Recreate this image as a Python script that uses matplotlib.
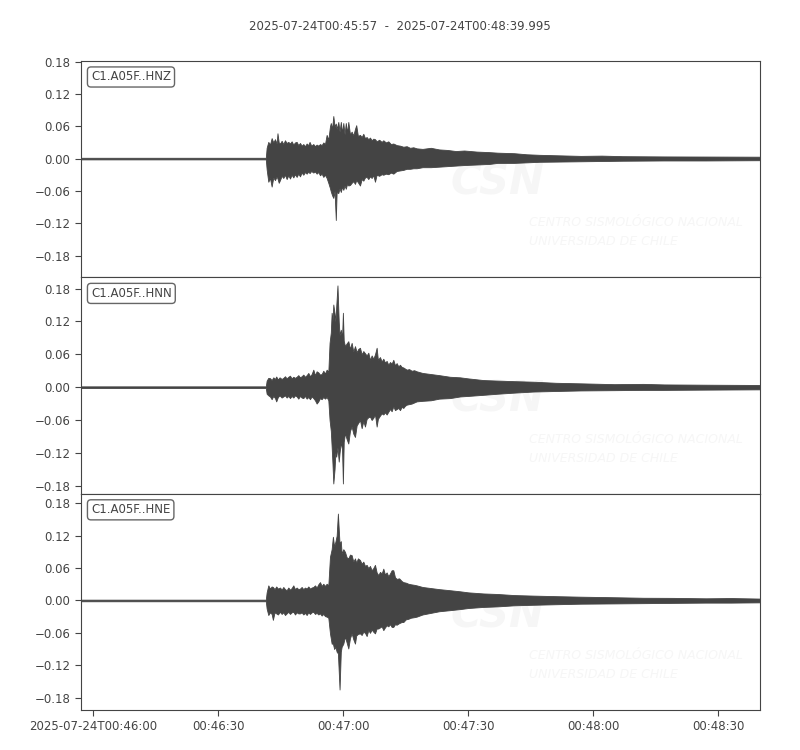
import numpy as np
import matplotlib
matplotlib.use("Agg")
import matplotlib.pyplot as plt

# envelopes: (seconds after 00:45:57, upper, lower)
channels = ["C1.A05F..HNZ", "C1.A05F..HNN", "C1.A05F..HNE"]

env_hnz = [
    (0, .0015, -.0015), (44.4, .0015, -.0015), (44.6, .020, -.020), (45.0, .031, -.043),
    (45.4, .026, -.036), (45.8, .038, -.052), (46.2, .030, -.035), (46.6, .036, -.040),
    (47.0, .028, -.033), (47.2, .047, -.037), (47.5, .030, -.045), (47.8, .028, -.040),
    (48.2, .033, -.032), (48.6, .027, -.036), (49.0, .034, -.030), (49.4, .029, -.038),
    (49.8, .031, -.031), (50.2, .028, -.037), (50.6, .032, -.030), (51.0, .026, -.035),
    (51.4, .030, -.029), (51.8, .031, -.034), (52.2, .025, -.028), (52.6, .029, -.033),
    (53.0, .024, -.026), (53.4, .027, -.030), (53.8, .023, -.025), (54.2, .028, -.028),
    (54.6, .025, -.024), (54.9, .031, -.027), (55.3, .024, -.023), (55.8, .027, -.026),
    (56.2, .023, -.024), (56.6, .026, -.028), (57.0, .024, -.025), (57.4, .027, -.031),
    (57.8, .025, -.028), (58.2, .030, -.034), (58.6, .027, -.030), (59.0, .044, -.036),
    (59.4, .035, -.045), (59.8, .060, -.055), (60.0, .066, -.061), (60.3, .055, -.068),
    (60.6, .079, -.073), (60.9, .060, -.060), (61.2, .065, -.114), (61.4, .055, -.062),
    (61.8, .068, -.064), (62.1, .050, -.055), (62.4, .068, -.062), (62.7, .048, -.052),
    (63.0, .066, -.058), (63.3, .045, -.050), (63.6, .066, -.056), (63.9, .048, -.047),
    (64.2, .068, -.050), (64.6, .045, -.049), (65.0, .050, -.045), (65.4, .043, -.042),
    (65.8, .055, -.047), (66.1, .062, -.040), (66.5, .042, -.044), (67.0, .044, -.050),
    (67.4, .040, -.038), (67.8, .046, -.041), (68.2, .038, -.035), (68.6, .040, -.034),
    (69.0, .036, -.038), (69.4, .039, -.033), (69.8, .034, -.036), (70.2, .037, -.031),
    (70.6, .036, -.043), (71.0, .032, -.030), (71.6, .035, -.032), (72.2, .031, -.029),
    (72.6, .034, -.030), (73.2, .030, -.028), (73.8, .032, -.029), (74.4, .027, -.026),
    (75.0, .028, -.028), (75.8, .025, -.023), (76.6, .024, -.022), (77.4, .022, -.021),
    (78.2, .023, -.019), (79.0, .020, -.019), (79.8, .021, -.018), (80.6, .019, -.018),
    (82, .018, -.016), (84, .020, -.016), (86, .017, -.015), (88, .016, -.014),
    (90, .014, -.013), (92, .015, -.012), (95, .013, -.011), (98, .012, -.010),
    (100, .011, -.008), (104, .010, -.008), (107, .008, -.007), (110, .007, -.006),
    (115, .006, -.0055), (120, .005, -.005), (125, .0055, -.0045), (130, .0045, -.004),
    (140, .004, -.0035), (150, .0038, -.0035), (163, .0035, -.003),
]

env_hnn = [
    (0, .0015, -.0015), (44.4, .0015, -.0015), (44.6, .012, -.012), (45.0, .017, -.015),
    (45.4, .0165, -.017), (45.8, .013, -.022), (46.2, .018, -.016), (46.6, .015, -.020),
    (46.9, .0195, -.026), (47.3, .014, -.018), (47.7, .018, -.015), (48.2, .015, -.019),
    (48.6, .017, -.017), (49.0, .020, -.015), (49.4, .016, -.019), (49.8, .019, -.016),
    (50.2, .021, -.020), (50.6, .016, -.016), (51.0, .019, -.019), (51.4, .017, -.015),
    (51.8, .019, -.017), (52.2, .022, -.021), (52.6, .018, -.016), (53.0, .020, -.019),
    (53.4, .023, -.020), (53.8, .019, -.016), (54.2, .022, -.021), (54.6, .026, -.018),
    (55.0, .020, -.022), (55.4, .024, -.017), (55.8, .032, -.020), (56.2, .022, -.024),
    (56.6, .029, -.030), (57.0, .027, -.026), (57.4, .023, -.020), (57.8, .024, -.022),
    (58.2, .030, -.018), (58.6, .025, -.021), (59.0, .032, -.018), (59.4, .028, -.024),
    (59.7, .081, -.060), (60.0, .100, -.080), (60.2, .136, -.109), (60.4, .120, -.140),
    (60.6, .151, -.176), (60.9, .135, -.150), (61.1, .120, -.120), (61.3, .148, -.127),
    (61.6, .186, -.110), (61.9, .120, -.136), (62.1, .095, -.120), (62.4, .105, -.100),
    (62.7, .090, -.115), (62.9, .136, -.176), (63.1, .085, -.100), (63.4, .075, -.084),
    (63.8, .080, -.095), (64.2, .084, -.103), (64.6, .070, -.080), (65.0, .081, -.072),
    (65.4, .065, -.085), (65.8, .075, -.091), (66.2, .064, -.070), (66.6, .070, -.065),
    (67.0, .072, -.060), (67.4, .060, -.075), (67.8, .066, -.062), (68.2, .062, -.072),
    (68.6, .058, -.058), (69.0, .063, -.055), (69.4, .050, -.054), (69.8, .058, -.060),
    (70.2, .052, -.056), (70.6, .060, -.050), (71.0, .072, -.072), (71.3, .050, -.058),
    (71.8, .055, -.052), (72.2, .047, -.048), (72.6, .052, -.050), (73.0, .045, -.046),
    (73.4, .048, -.050), (73.8, .041, -.045), (74.2, .046, -.040), (74.6, .043, -.044),
    (75.0, .050, -.035), (75.4, .040, -.042), (75.8, .044, -.040), (76.2, .038, -.038),
    (76.6, .041, -.042), (77.0, .037, -.036), (77.4, .036, -.038), (77.8, .034, -.034),
    (78.2, .032, -.032), (78.8, .033, -.031), (79.4, .030, -.030), (80.0, .031, -.028),
    (80.6, .029, -.026), (82, .026, -.025), (84, .024, -.024), (86, .022, -.021),
    (88.6, .019, -.020), (91, .018, -.017), (93, .016, -.016), (96.6, .013, -.014),
    (100, .012, -.012), (104, .011, -.010), (108.6, .010, -.008), (114, .008, -.007),
    (120, .007, -.006), (128, .0055, -.0055), (135, .006, -.005), (140, .005, -.005),
    (150, .0045, -.0045), (163, .004, -.004),
]

env_hne = [
    (0, .0015, -.0015), (44.4, .0015, -.0015), (44.6, .015, -.015), (45.0, .028, -.027),
    (45.4, .022, -.022), (45.8, .026, -.025), (46.1, .025, -.036), (46.5, .021, -.022),
    (46.9, .026, -.024), (47.3, .022, -.026), (47.8, .024, -.021), (48.2, .020, -.025),
    (48.6, .025, -.022), (49.0, .021, -.027), (49.4, .019, -.024), (49.8, .024, -.021),
    (50.2, .020, -.025), (50.6, .023, -.022), (51.0, .028, -.021), (51.4, .021, -.026),
    (51.8, .024, -.022), (52.2, .021, -.024), (52.6, .022, -.024), (53.0, .025, -.022),
    (53.4, .021, -.026), (53.8, .024, -.023), (54.2, .022, -.027), (54.6, .026, -.022),
    (55.0, .022, -.025), (55.4, .024, -.022), (55.8, .025, -.021), (56.2, .028, -.025),
    (56.6, .024, -.023), (57.0, .030, -.026), (57.4, .034, -.024), (57.8, .027, -.028),
    (58.2, .031, -.025), (58.6, .027, -.029), (59.0, .031, -.030), (59.4, .028, -.032),
    (59.8, .081, -.061), (60.2, .095, -.080), (60.5, .118, -.080), (60.8, .100, -.090),
    (61.1, .109, -.086), (61.4, .120, -.095), (61.7, .161, -.098), (62.1, .105, -.165),
    (62.4, .110, -.095), (62.6, .087, -.086), (63.0, .095, -.080), (63.4, .090, -.067),
    (63.8, .080, -.078), (64.2, .078, -.089), (64.6, .085, -.070), (65.0, .084, -.061),
    (65.4, .072, -.072), (65.8, .078, -.080), (66.1, .070, -.065), (66.5, .078, -.062),
    (67.0, .075, -.061), (67.4, .068, -.064), (67.8, .072, -.058), (68.2, .064, -.060),
    (68.6, .066, -.066), (69.0, .060, -.055), (69.4, .064, -.060), (69.8, .056, -.054),
    (70.2, .060, -.058), (70.6, .066, -.061), (71.0, .052, -.052), (71.4, .047, -.052),
    (71.8, .053, -.050), (72.2, .050, -.048), (72.6, .059, -.055), (73.0, .048, -.050),
    (73.4, .052, -.046), (73.8, .045, -.048), (74.2, .050, -.044), (74.6, .056, -.049),
    (75.0, .056, -.049), (75.4, .043, -.044), (75.8, .040, -.045), (76.4, .041, -.042),
    (77.0, .036, -.040), (77.4, .034, -.040), (78.0, .033, -.035), (78.6, .031, -.034),
    (79.2, .030, -.032), (80.0, .029, -.031), (80.6, .028, -.030), (82, .025, -.026),
    (84, .023, -.023), (86, .021, -.020), (88.6, .019, -.018), (91, .017, -.016),
    (93, .015, -.014), (96.6, .013, -.012), (100, .012, -.011), (104, .010, -.009),
    (108.6, .009, -.008), (114, .008, -.007), (120, .007, -.006), (128, .006, -.0055),
    (135, .005, -.005), (142, .0048, -.0045), (150, .004, -.004), (156, .0045, -.004),
    (163, .0035, -.0035),
]

ylims = [(-0.220, 0.1815), (-0.1945, 0.201), (-0.203, 0.198)]
yticks = [-0.18, -0.12, -0.06, 0.0, 0.06, 0.12, 0.18]
xticks = [3, 33, 63, 93, 123, 153]
xlabels = ["2025-07-24T00:46:00", "00:46:30", "00:47:00", "00:47:30", "00:48:00", "00:48:30"]
title = "2025-07-24T00:45:57  -  2025-07-24T00:48:39.995"

c = '#444444'
wm = '#f6f6f6'
fig = plt.figure(figsize=(8, 7.5), dpi=100)
axes = fig.subplots(3, 1, sharex=True)
fig.subplots_adjust(left=0.101, right=0.95, top=0.919, bottom=0.0533, hspace=0)

for ax, name, env, yl in zip(axes, channels, [env_hnz, env_hnn, env_hne], ylims):
    t, up, lo = np.array(env).T

    # faint CSN watermark behind the trace
    ax.text(0.613, 0.437, "CSN", transform=ax.transAxes, fontsize=30, fontweight='bold',
            style='italic', color=wm, ha='center', va='center', zorder=0, clip_on=True)
    ax.text(0.66, 0.252, "CENTRO SISMOLÓGICO NACIONAL", transform=ax.transAxes, fontsize=9,
            style='italic', color=wm, ha='left', va='center', zorder=0, clip_on=True)
    ax.text(0.66, 0.164, "UNIVERSIDAD DE CHILE", transform=ax.transAxes, fontsize=9,
            style='italic', color=wm, ha='left', va='center', zorder=0, clip_on=True)

    ax.fill_between(t, lo, up, facecolor=c, edgecolor=c, linewidth=0.6, zorder=2)
    ax.set_xlim(0, 163)
    ax.set_ylim(*yl)
    ax.set_yticks(yticks)
    ax.set_yticklabels(["%.2f" % v if v >= 0 else "\u2212%.2f" % -v for v in yticks])
    ax.tick_params(labelsize=8.5, colors=c, length=4)
    for s in ax.spines.values():
        s.set_color(c)
    ax.text(0.015, 0.925, name, transform=ax.transAxes, fontsize=8.5, color=c,
            va='center', ha='left',
            bbox=dict(boxstyle='round,pad=0.3', facecolor='white', edgecolor='#666666', linewidth=1))

axes[-1].set_xticks(xticks)
axes[-1].set_xticklabels(xlabels)
fig.suptitle(title, y=0.973, fontsize=8.5, color=c)

plt.savefig('out.png', dpi=100)
